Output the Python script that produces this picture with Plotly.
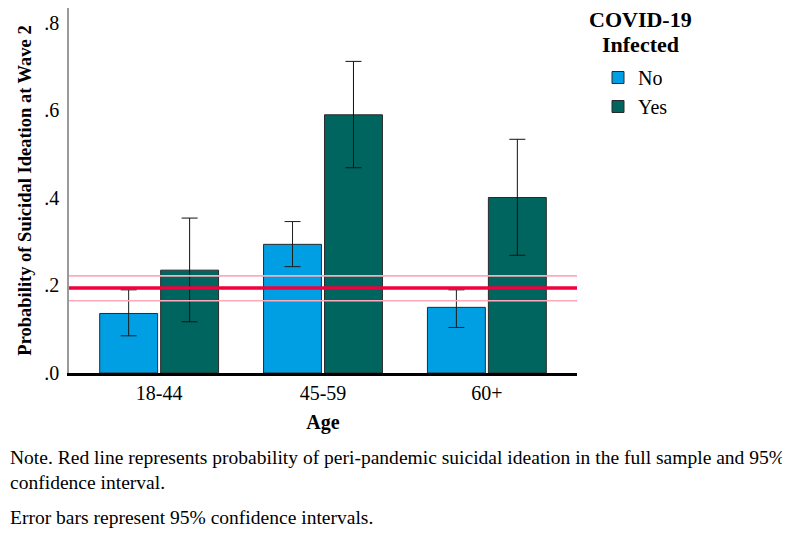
import plotly.graph_objects as go

# ---- data ----
age_groups = ["18-44", "45-59", "60+"]
no_prob = [0.136, 0.294, 0.150]
no_lower = [0.085, 0.243, 0.104]
no_upper = [0.190, 0.346, 0.190]
yes_prob = [0.235, 0.590, 0.401]
yes_lower = [0.117, 0.469, 0.269]
yes_upper = [0.354, 0.712, 0.534]
full_sample_prob = 0.194
full_sample_ci = [0.165, 0.222]
y_tick_vals = [0.0, 0.2, 0.4, 0.6, 0.8]
y_tick_text = [".0", ".2", ".4", ".6", ".8"]

FONT = "Liberation Serif, Times New Roman, serif"

# page has an 8px body margin, so the figure is 782x544 and everything is shifted accordingly
PW = 508.0  # plot width px
PH = 365.0  # plot height px
L = 61

fig = go.Figure()
fig.add_trace(go.Bar(
    name="No", x=age_groups, y=no_prob,
    marker=dict(color="#009fe3", line=dict(color="#2a2a2a", width=1)),
    error_y=dict(type="data", symmetric=False,
                 array=[u - v for u, v in zip(no_upper, no_prob)],
                 arrayminus=[v - l for v, l in zip(no_prob, no_lower)],
                 color="#1e1e1e", thickness=1, width=8),
))
fig.add_trace(go.Bar(
    name="Yes", x=age_groups, y=yes_prob,
    marker=dict(color="#00655f", line=dict(color="#2a2a2a", width=1)),
    error_y=dict(type="data", symmetric=False,
                 array=[u - v for u, v in zip(yes_upper, yes_prob)],
                 arrayminus=[v - l for v, l in zip(yes_prob, yes_lower)],
                 color="#111111", thickness=1, width=8),
))

# reference lines (full sample probability and CI)
for yv in full_sample_ci:
    fig.add_shape(type="line", xref="paper", x0=0, x1=1, yref="y", y0=yv, y1=yv,
                  line=dict(color="#ffaabb", width=1.6), layer="above")
fig.add_shape(type="line", xref="paper", x0=0, x1=1, yref="y",
              y0=full_sample_prob, y1=full_sample_prob,
              line=dict(color="#f0003c", width=3.5), layer="above")

fig.update_layout(
    width=782, height=544,
    margin=dict(l=L, r=213, t=0, b=179, autoexpand=False),
    paper_bgcolor="white", plot_bgcolor="white",
    font=dict(family=FONT, size=20, color="black"),
    barmode="group", bargap=0.256, bargroupgap=0.05,
    showlegend=True,
    legend=dict(
        x=(590 - L) / PW, xanchor="left", y=(PH - 50) / PH, yanchor="top",
        font=dict(size=20), tracegroupgap=0,
    ),
    xaxis=dict(
        range=[-0.55, 2.55], showline=True, linecolor="black", linewidth=3,
        ticks="", showgrid=False, zeroline=False, automargin=False,
        title=dict(text="<b>Age</b>", font=dict(size=20), standoff=12),
    ),
    yaxis=dict(
        range=[0, 0.834], tickvals=y_tick_vals, ticktext=y_tick_text,
        showline=True, linecolor="#9a9a9a", linewidth=1.5, ticks="",
        showgrid=False, zeroline=False, ticklabelstandoff=4, automargin=False,
        title=dict(text="<b>Probability of Suicidal Ideation at Wave 2</b>", font=dict(size=18.5), standoff=8),
    ),
    annotations=[
        dict(xref="paper", yref="paper", x=(632 - L) / PW, y=(PH - 12) / PH,
             xanchor="center", yanchor="middle", showarrow=False,
             font=dict(size=22), text="<b>COVID-19</b>"),
        dict(xref="paper", yref="paper", x=(632 - L) / PW, y=(PH - 36) / PH,
             xanchor="center", yanchor="middle", showarrow=False,
             font=dict(size=22), text="<b>Infected</b>"),
        dict(xref="paper", yref="paper", x=-L / PW, y=(365 - 462) / PH, xanchor="left", yanchor="middle",
             align="left", showarrow=False, font=dict(size=19.55),
             text="Note. Red line represents probability of peri-pandemic suicidal ideation in the full sample and 95%<br>confidence interval."),
        dict(xref="paper", yref="paper", x=-L / PW, y=(365 - 509) / PH, xanchor="left", yanchor="middle",
             align="left", showarrow=False, font=dict(size=19.55),
             text="Error bars represent 95% confidence intervals."),
    ],
)

fig.write_html("out.html")
